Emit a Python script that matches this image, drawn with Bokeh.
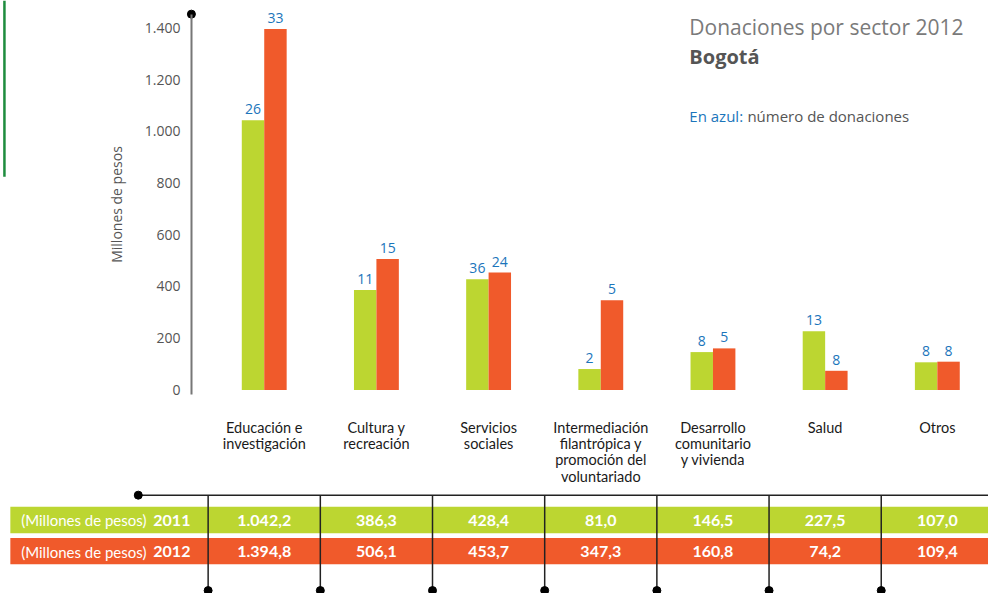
from bokeh.plotting import figure
from bokeh.models import Range1d, LinearAxis, FixedTicker
from bokeh.core.properties import value
from bokeh.embed import file_html
from bokeh.resources import INLINE
import numpy as np

# ---- data ----
categories = ["Educación e\ninvestigación", "Cultura y\nrecreación", "Servicios\nsociales",
              "Intermediación\nfilantrópica y\npromoción del\nvoluntariado",
              "Desarrollo\ncomunitario\ny vivienda", "Salud", "Otros"]
monto_2011 = [1042.2, 386.3, 428.4, 81.0, 146.5, 227.5, 107.0]
monto_2012 = [1394.8, 506.1, 453.7, 347.3, 160.8, 74.2, 109.4]
donaciones_2011 = [26, 11, 36, 2, 8, 13, 8]
donaciones_2012 = [33, 15, 24, 5, 5, 8, 8]
tick_values = [0, 200, 400, 600, 800, 1000, 1200, 1400]
tick_labels = ["0", "200", "400", "600", "800", "1.000", "1.200", "1.400"]

GREEN = "#BCD631"
ORANGE = "#F05A2B"
BLUE = "#1B75BB"
GRAY = "#555555"


def fmt(v):
    s = f"{v:,.1f}"
    return s.replace(",", "X").replace(".", ",").replace("X", ".")


W, H = 988, 593
# layout helpers: positions expressed in the 1004x609 layout space
def px(lx):
    return (lx - 268) / 114.0

def py(ly):
    return (400 - ly) * 1400.0 / 372.0

p = figure(width=W, height=H, output_backend="svg", toolbar_location=None,
           x_range=Range1d(px(0), px(1004)), y_range=Range1d(py(609), py(0)),
           x_axis_location=None, y_axis_location=None, min_border=0)
p.outline_line_color = None
p.xgrid.visible = False
p.ygrid.visible = False
p.background_fill_color = "white"

n = len(categories)
idx = np.arange(n)

# left decorative green line
p.segment(x0=[px(4)], y0=[py(0)], x1=[px(4)], y1=[py(181)], line_color="#1E8C3E", line_width=2.5)

# bars
p.vbar(x=idx - 0.1, top=monto_2011, width=0.2, bottom=0, fill_color=GREEN, line_color=None)
p.vbar(x=idx + 0.1, top=monto_2012, width=0.2, bottom=0, fill_color=ORANGE, line_color=None)

# counts in blue
p.text(x=idx - 0.1, y=monto_2011, text=[str(v) for v in donaciones_2011], text_align="center",
       text_baseline="bottom", y_offset=-6, text_color=BLUE, text_font_size="14px",
       text_font=value("Open Sans"))
p.text(x=idx + 0.1, y=monto_2012, text=[str(v) for v in donaciones_2012], text_align="center",
       text_baseline="bottom", y_offset=-6, text_color=BLUE, text_font_size="14px",
       text_font=value("Open Sans"))

# category labels
p.text(x=idx, y=[py(430)] * n, text=categories, text_align="center", text_baseline="top",
       text_color="#1A1A1A", text_font_size="14.5px", text_font=value("Lato"), text_line_height=0.95)

# y axis
yax = LinearAxis(fixed_location=px(194), bounds=(py(405), py(14)),
                 ticker=FixedTicker(ticks=tick_values),
                 major_label_overrides={v: l for v, l in zip(tick_values, tick_labels)})
yax.axis_line_color = "#777777"
yax.axis_line_width = 2
yax.major_tick_line_color = None
yax.minor_tick_line_color = None
yax.major_tick_out = 0
yax.major_tick_in = 0
yax.major_label_standoff = 11
yax.major_label_text_font = "Open Sans"
yax.major_label_text_font_size = "14px"
yax.major_label_text_color = GRAY
yax.axis_label = "Millones de pesos"
yax.axis_label_text_font = "Open Sans"
yax.axis_label_text_font_size = "14px"
yax.axis_label_text_font_style = "normal"
yax.axis_label_text_color = GRAY
yax.axis_label_standoff = 16
p.add_layout(yax, "left")
p.scatter(x=[px(194)], y=[py(14)], size=8, color="black")

# title block
p.text(x=[px(700)], y=[py(27)], text=["Donaciones por sector 2012"], text_baseline="middle",
       text_color="#7A7A7A", text_font_size="21px", text_font=value("Open Sans"))
p.text(x=[px(700)], y=[py(57)], text=["Bogotá"], text_baseline="middle", text_font_style="bold",
       text_color=GRAY, text_font_size="20px", text_font=value("Open Sans"))
p.text(x=[px(700)], y=[py(119)], text=["En azul:"], text_baseline="middle",
       text_color=BLUE, text_font_size="15px", text_font=value("Open Sans"))
p.text(x=[px(759)], y=[py(119)], text=["número de donaciones"], text_baseline="middle",
       text_color=GRAY, text_font_size="15px", text_font=value("Open Sans"))

# table
p.segment(x0=[px(140)], y0=[py(508)], x1=[px(1004)], y1=[py(508)], line_color="#222222", line_width=1.5)
p.scatter(x=[px(140)], y=[py(508)], size=8, color="black")
p.quad(left=[px(10)], right=[px(1004)], top=[py(520)], bottom=[py(547)], fill_color=GREEN, line_color=None)
p.quad(left=[px(10)], right=[px(1004)], top=[py(552)], bottom=[py(579)], fill_color=ORANGE, line_color=None)
sep = idx - 0.5
p.segment(x0=sep, y0=[py(508)] * n, x1=sep, y1=[py(606)] * n, line_color="#222222", line_width=1.5)
p.scatter(x=sep, y=[py(606)] * n, size=8, color="black")

for yy, year, vals in [(py(534), "2011", monto_2011), (py(566), "2012", monto_2012)]:
    p.text(x=[px(21)], y=[yy], text=["(Millones de pesos)"], text_baseline="middle",
           text_color="white", text_font_size="15px", text_font=value("Lato"))
    p.text(x=[px(193)], y=[yy], text=[year], text_baseline="middle", text_align="right",
           text_color="white", text_font_size="16px", text_font_style="bold", text_font=value("Lato"))
    p.text(x=idx, y=[yy] * n, text=[fmt(v) for v in vals], text_baseline="middle", text_align="center",
           text_color="white", text_font_size="16px", text_font_style="bold", text_font=value("Lato"))

open("out.html", "w").write(file_html(p, INLINE))
